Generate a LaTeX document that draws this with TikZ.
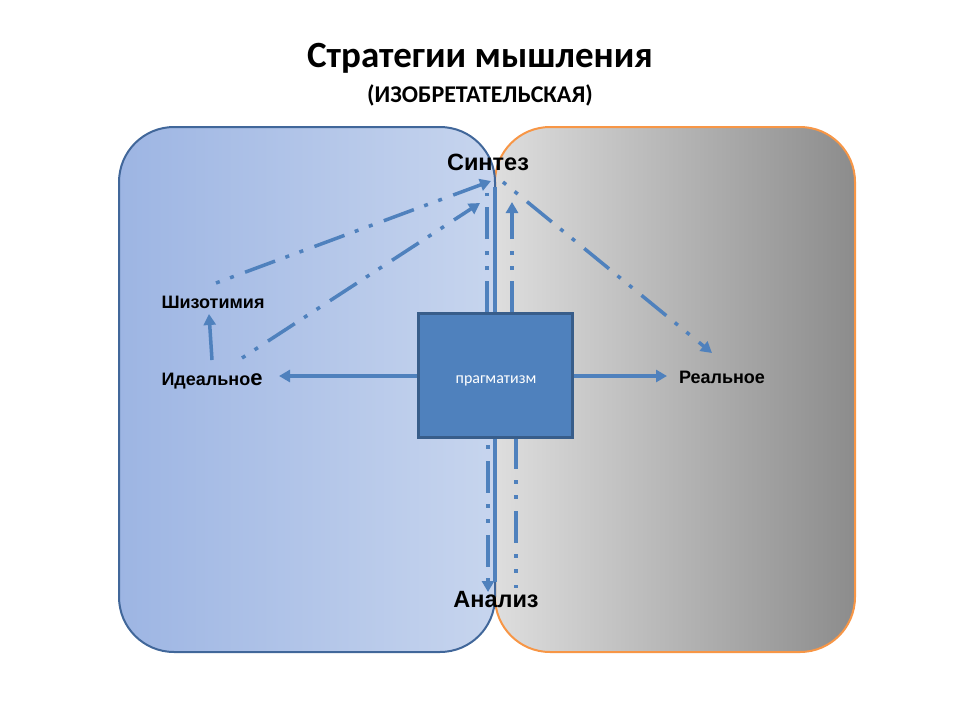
\documentclass[tikz,border=0pt]{standalone}
\usepackage{fontspec}
\setmainfont{Liberation Sans}
\newfontfamily\calib{Carlito}
\usetikzlibrary{arrows.meta}
\definecolor{arr}{RGB}{79,129,189}
\definecolor{boxfill}{RGB}{79,129,189}
\definecolor{boxline}{RGB}{56,93,138}
\definecolor{blueL}{RGB}{157,181,227}
\definecolor{blueR}{RGB}{199,213,238}
\definecolor{blueBorder}{RGB}{65,103,154}
\definecolor{grayL}{RGB}{222,222,222}
\definecolor{grayR}{RGB}{140,140,140}
\definecolor{orangeB}{RGB}{247,150,70}
\tikzset{
  conn/.style={draw=arr, line width=3.5pt, line cap=butt},
  ddd/.style={conn, dash pattern=on 32pt off 11pt on 4pt off 11pt on 4pt off 12pt},
  tip/.style={-{Triangle[length=11pt,width=12pt]}},
  lbl/.style={font=\bfseries\fontsize{18}{18}\selectfont, text=black, inner sep=0pt},
  biglbl/.style={font=\bfseries\fontsize{23.5}{23.5}\selectfont, text=black, inner sep=0pt},
  boxstyle/.style={draw=boxline, fill=boxfill, line width=3pt, minimum width=154pt, minimum height=124pt, inner sep=0pt},
}
\begin{document}
\begin{tikzpicture}[x=1pt,y=-1pt]
\useasboundingbox (0,0) rectangle (960,720);
% panels
\path[left color=grayL, right color=grayR, draw=orangeB, line width=2pt, rounded corners=55pt]
  (495,127) rectangle (855,652);
\path[left color=blueL, right color=blueR, draw=blueBorder, line width=2pt, rounded corners=55pt]
  (119,127) rectangle (495,652);
% title
\node (t1) at (480,58) {\calib\bfseries\fontsize{37}{37}\selectfont Стратегии мышления};
\node (t2) at (480,95) {\calib\bfseries\fontsize{24}{24}\selectfont (ИЗОБРЕТАТЕЛЬСКАЯ)};
% labels
\node[biglbl] (syn) at (488,162) {Синтез};
\node[lbl] (shiz) at (213,302) {Шизотимия};
\node[lbl] (ideal) at (212,381) {Идеально{\fontsize{22}{22}\selectfont е}};
\node[lbl] (real) at (722,377) {Реальное};
\node[biglbl] (anal) at (496,600) {Анализ};
% box
\node[boxstyle] (box) at (495,375) {};
% coordinates for free ends
\coordinate (bt1) at (487,313);
\coordinate (bt2) at (495,313);
\coordinate (bt3) at (512,313);
\coordinate (bb1) at (488,437);
\coordinate (bb2) at (495,437);
\coordinate (bb3) at (516,437);
\coordinate (s1) at (487,193);
\coordinate (s2) at (495,187);
\coordinate (s3) at (512,202);
\coordinate (a1) at (488,592);
\coordinate (a2) at (495,582);
\coordinate (a3) at (516,588);
\coordinate (sh0) at (216,283);
\coordinate (sh1) at (491,181);
\coordinate (id0) at (242,358);
\coordinate (id1) at (480,203);
\coordinate (up0) at (212,360);
\coordinate (up1) at (209,314);
\coordinate (r0) at (503,182);
\coordinate (r1) at (712,353);
\coordinate (lw) at (279,376);
\coordinate (re) at (667,376);
% connectors
\draw[conn, tip] (box.west |- lw) -- (lw);
\draw[conn, tip] (box.east |- re) -- (re);
\draw[conn, tip] (up0) -- (up1);
\draw[ddd, dash phase=43pt, tip] (sh0) -- (sh1);
\draw[ddd, dash phase=43pt, tip] (id0) -- (id1);
\draw[ddd, dash phase=43pt, tip] (r0) -- (r1);
\draw[ddd] (bt1) -- (s1);
\draw[conn] (bt2) -- (s2);
\draw[ddd, tip] (bt3) -- (s3);
\draw[ddd, dash phase=50pt, tip] (bb1) -- (a1);
\draw[conn] (bb2) -- (a2);
\draw[ddd] (bb3) -- (a3);
% redraw box on top
\node[boxstyle] (boxtop) at (box.center) {};
\node[text=white, font=\calib\fontsize{16}{16}\selectfont, inner sep=0pt, anchor=base] (boxtxt) at (496,383) {прагматизм};
\end{tikzpicture}
\end{document}
